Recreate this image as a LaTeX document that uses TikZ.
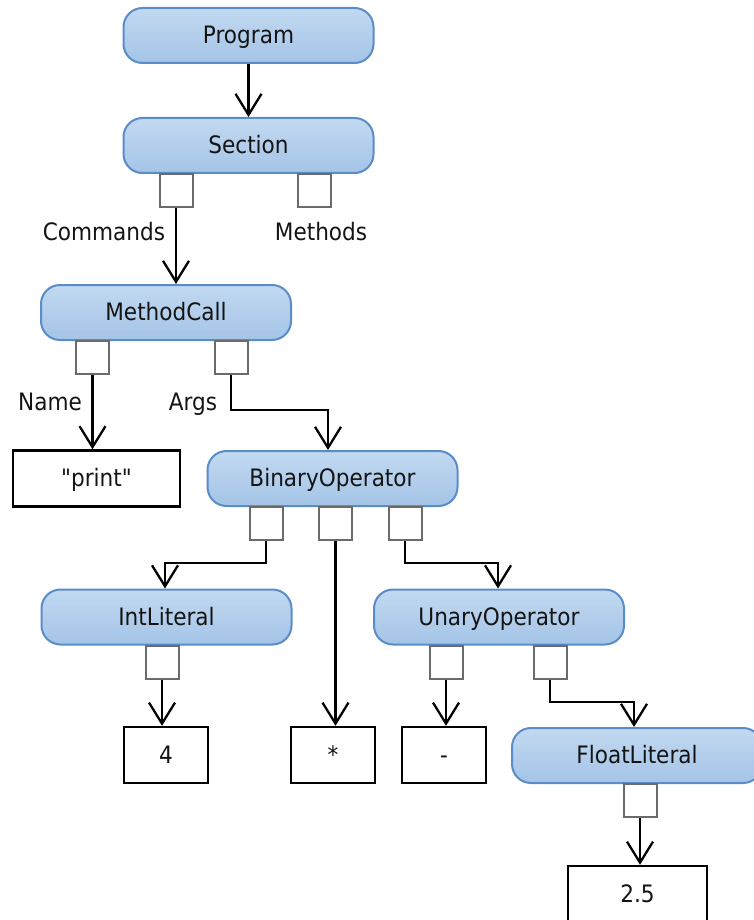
\documentclass[tikz,border=0pt]{standalone}
\usepackage{fontspec}
\setmainfont{DejaVu Sans}[FakeStretch=0.9, Ligatures=TeXOff]
\usetikzlibrary{arrows.meta}
\definecolor{nodetop}{HTML}{C2D9F1}
\definecolor{nodebot}{HTML}{A4C4E7}
\definecolor{nodeedge}{HTML}{5A8CC8}
\definecolor{portedge}{HTML}{6B6B6B}
\definecolor{ink}{HTML}{141414}
\begin{document}
\begin{tikzpicture}[x=1pt,y=-1pt,
  font=\fontsize{24}{28}\selectfont, text=ink,
  every node/.style={text height=17pt, text depth=1pt},
  astnode/.style={rectangle, rounded corners=19pt, draw=nodeedge, line width=2pt,
    top color=nodetop, bottom color=nodebot,
    minimum width=250pt, minimum height=55pt, inner sep=0pt},
  valbox/.style={rectangle, draw=black, line width=2.4pt, fill=white,
    minimum height=56pt, inner sep=0pt},
  port/.style={rectangle, draw=portedge, line width=2pt, fill=white,
    minimum width=33pt, minimum height=33pt, inner sep=0pt, anchor=north,
    text height=0pt, text depth=0pt},
  role/.style={inner sep=0pt},
  arr/.style={line width=2.3pt, -{Straight Barb[length=21pt,width=26pt]}}]

\clip (0,0) rectangle (754,920);

% syntax tree nodes
\node[astnode] (prog) at (248.5,35.5) {Program};
\node[astnode] (sec) at (248.5,145.5) {Section};
\node[port] (sec-p1) at (176,173) {};
\node[port] (sec-p2) at (314.5,173) {};
\node[role] (lcmd) at (104,232) {Commands};
\node[role] (lmeth) at (321,232) {Methods};

\node[astnode] (mc) at (166,312.5) {MethodCall};
\node[port] (mc-p1) at (92.5,340) {};
\node[port] (mc-p2) at (231,340) {};
\node[role] (lname) at (50,402) {Name};
\node[role] (largs) at (193,402) {Args};

\node[valbox, minimum width=167pt] (print) at (96.5,478.5) {"print"};
\node[astnode] (bin) at (332.5,478.5) {BinaryOperator};
\node[port] (bin-p1) at (266,506) {};
\node[port] (bin-p2) at (335.5,506) {};
\node[port] (bin-p3) at (405,506) {};

\node[astnode] (int) at (166.5,617) {IntLiteral};
\node[astnode] (un) at (499,617) {UnaryOperator};
\node[port] (int-p) at (162,645) {};
\node[port] (un-p1) at (446,645) {};
\node[port] (un-p2) at (550,645) {};

\node[valbox, minimum width=84pt] (four) at (166,755) {4};
\node[valbox, minimum width=84pt] (star) at (333,755) {*};
\node[valbox, minimum width=84pt] (minus) at (444,755) {-};
\node[astnode] (flt) at (637,755.5) {FloatLiteral};
\node[port] (flt-p) at (640,783) {};
\node[valbox, minimum width=139pt] (val) at (637.5,894) {2.5};

% connectors
\draw[arr] (prog.south) -- (sec.north);
\draw[arr] (sec-p1.south) -- (sec-p1.south |- mc.north);
\draw[arr] (mc-p1.south) -- (mc-p1.south |- print.north);
\draw[arr] (mc-p2.south) -- ++(0,35) -| ([xshift=-4.5pt]bin.north);
\draw[arr] (bin-p1.south) -- ++(0,22) -| ([xshift=-1.5pt]int.north);
\draw[arr] (bin-p2.south) -- (bin-p2.south |- star.north);
\draw[arr] (bin-p3.south) -- ++(0,22) -| ([xshift=-1pt]un.north);
\draw[arr] (int-p.south) -- (int-p.south |- four.north);
\draw[arr] (un-p1.south) -- (un-p1.south |- minus.north);
\draw[arr] (un-p2.south) -- ++(0,22) -| ([xshift=-3pt]flt.north);
\draw[arr] (flt-p.south) -- (flt-p.south |- val.north);
\end{tikzpicture}
\end{document}
